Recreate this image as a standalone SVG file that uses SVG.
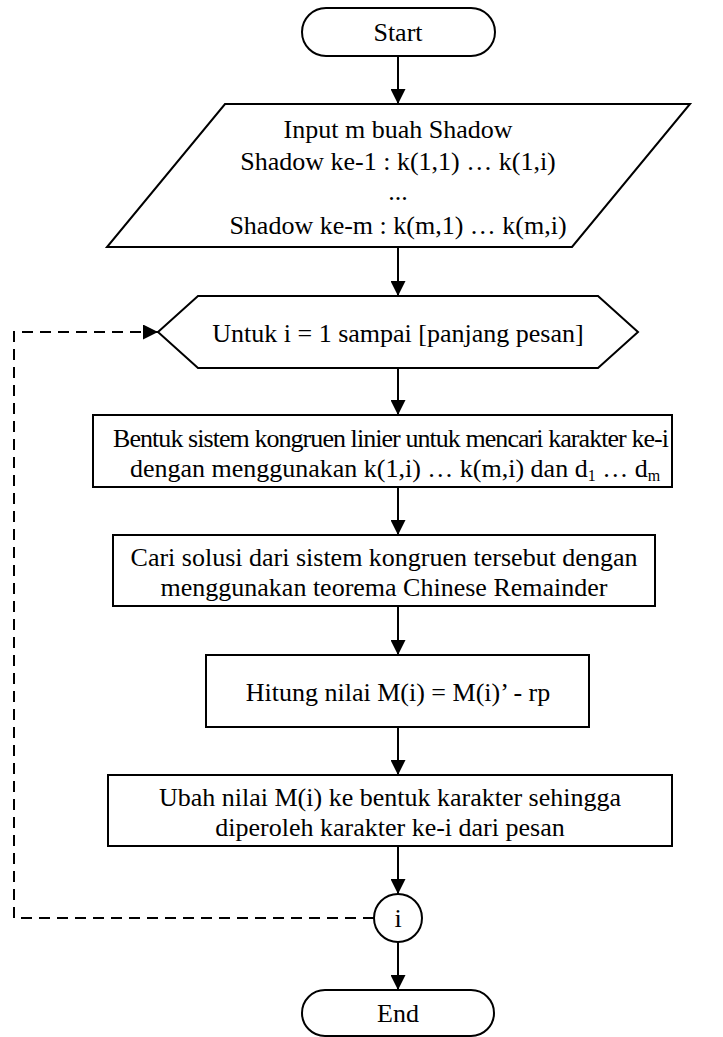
<svg xmlns="http://www.w3.org/2000/svg" width="723" height="1037" viewBox="0 0 723 1037">
<style>
.s{fill:#fff;stroke:#000;stroke-width:2}
.t{font-size:26px;fill:#000;text-anchor:middle}
.c{fill:none;stroke:#000;stroke-width:2}
.d{fill:none;stroke:#000;stroke-width:2;stroke-dasharray:11,7}
.sub{font-size:16px}
</style>
<defs>
<marker id="ah" viewBox="0 0 15 15" refX="15" refY="7.5" markerWidth="15" markerHeight="15" markerUnits="userSpaceOnUse" orient="auto">
<path d="M0,0 L15,7.5 L0,15 z" fill="#000"/>
</marker>
</defs>
<rect width="723" height="1037" fill="#fff"/>
<g id="connectors">
<line class="c" x1="398" y1="56" x2="398" y2="104" marker-end="url(#ah)"/>
<line class="c" x1="398" y1="247" x2="398" y2="296" marker-end="url(#ah)"/>
<line class="c" x1="398" y1="368" x2="398" y2="415" marker-end="url(#ah)"/>
<line class="c" x1="398" y1="487" x2="398" y2="535" marker-end="url(#ah)"/>
<line class="c" x1="398" y1="606" x2="398" y2="655" marker-end="url(#ah)"/>
<line class="c" x1="398" y1="727" x2="398" y2="775" marker-end="url(#ah)"/>
<line class="c" x1="398" y1="846" x2="398" y2="894" marker-end="url(#ah)"/>
<line class="c" x1="398" y1="942" x2="398" y2="990" marker-end="url(#ah)"/>
<path class="d" d="M374,918 H14 V332 H158" marker-end="url(#ah)"/>
</g>
<g font-family="Liberation Serif">
<g id="start">
<rect class="s" x="302" y="8" width="193" height="48" rx="24"/>
<text class="t" x="398" y="41">Start</text>
</g>
<g id="input">
<polygon class="s" points="225,104 690,104 572,247 107,247"/>
<text class="t" x="398" y="138">Input m buah Shadow</text>
<text class="t" x="398" y="170">Shadow ke-1 : k(1,1) … k(1,i)</text>
<text class="t" x="398" y="200">...</text>
<text class="t" x="398" y="234">Shadow ke-m : k(m,1) … k(m,i)</text>
</g>
<g id="loop">
<polygon class="s" points="198,296 598,296 638,332 598,368 198,368 158,332"/>
<text class="t" x="398" y="342">Untuk i = 1 sampai [panjang pesan]</text>
</g>
<g id="box1">
<rect class="s" x="93" y="415" width="579" height="72"/>
<text class="t" x="391" y="447" textLength="556" lengthAdjust="spacing">Bentuk sistem kongruen linier untuk mencari karakter ke-i</text>
<text class="t" x="395" y="477">dengan menggunakan k(1,i) … k(m,i) dan d<tspan class="sub" dy="4">1</tspan><tspan dy="-4"> … d</tspan><tspan class="sub" dy="4">m</tspan></text>
</g>
<g id="box2">
<rect class="s" x="113" y="535" width="542" height="71"/>
<text class="t" x="384" y="566">Cari solusi dari sistem kongruen tersebut dengan</text>
<text class="t" x="384" y="596">menggunakan teorema Chinese Remainder</text>
</g>
<g id="box3">
<rect class="s" x="206" y="655" width="383" height="72"/>
<text class="t" x="398" y="701">Hitung nilai M(i) = M(i)’ - rp</text>
</g>
<g id="box4">
<rect class="s" x="108" y="775" width="564" height="71"/>
<text class="t" x="390" y="806">Ubah nilai M(i) ke bentuk karakter sehingga</text>
<text class="t" x="390" y="836">diperoleh karakter ke-i dari pesan</text>
</g>
<g id="connector-i">
<circle class="s" cx="398" cy="918" r="24"/>
<text class="t" x="398" y="927">i</text>
</g>
<g id="end">
<rect class="s" x="302" y="990" width="192" height="46" rx="23"/>
<text class="t" x="398" y="1022">End</text>
</g>
</g>
</svg>
